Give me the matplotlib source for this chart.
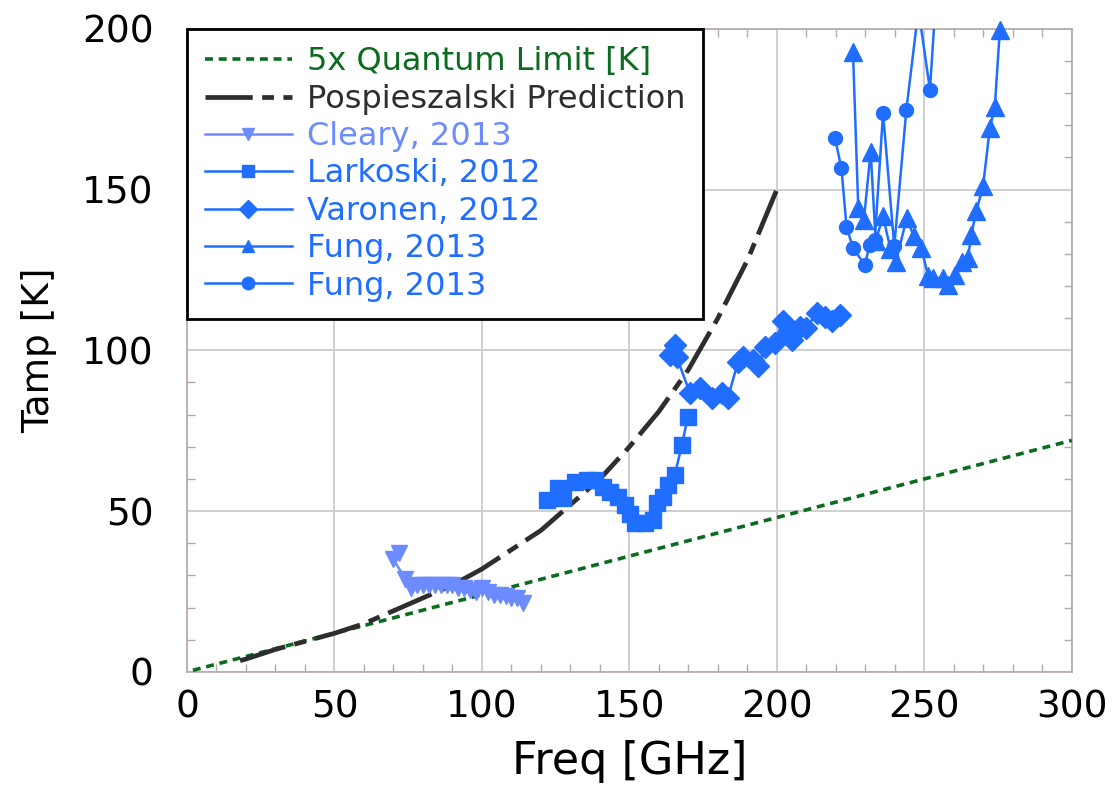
import matplotlib
matplotlib.use("Agg")
import matplotlib.pyplot as plt
from matplotlib.ticker import MultipleLocator

plt.rcParams['font.family'] = ['DejaVu Sans']

# 5x quantum limit (straight line)
ql_freq = [2, 300]
ql_temp = [0.5, 72]

# Pospieszalski prediction
pos_freq = [18, 20, 30, 40, 50, 60, 70, 80, 90, 100, 110, 120, 130, 140, 150, 160, 170, 180, 190, 200]
pos_temp = [3.5, 4, 7, 9.5, 12, 15, 19, 23, 27, 32, 38, 44, 52, 60, 70, 81, 94, 110, 128, 150]

# Cleary, 2013
cl_freq = [72, 70, 74, 76, 78, 80, 82, 84, 86, 88, 90, 92, 94, 96, 98, 100, 102, 104, 106, 108, 110, 112, 114]
cl_temp = [37, 35, 29, 26, 27, 27, 27, 27, 27, 27, 27, 26, 26, 25.5, 25, 26, 25, 24, 24, 23.5, 23, 23, 21.5]

# Larkoski, 2012
lk_freq = [121.9, 125.8, 127.5, 131.6, 135.5, 138.3, 141.0, 143.4, 146.0, 148.5, 150.2, 151.9,
           155.3, 158.0, 159.3, 161.4, 163.0, 165.4, 167.8, 169.8]
lk_temp = [53.5, 57.2, 54.0, 59.0, 59.7, 59.7, 57.5, 56.0, 54.5, 52.0, 49.0, 46.3,
           46.3, 47.3, 52.5, 54.5, 58.0, 61.3, 70.6, 79.3]

# Varonen, 2012
vr_freq = [165.4, 163.7, 166.0, 170.5, 173.9, 178.0, 181.4, 183.4, 186.8, 188.5, 192.0, 193.6,
           196.0, 199.3, 202.0, 203.4, 205.0, 207.8, 210.0, 213.6, 216.3, 218.6, 221.4]
vr_temp = [101.7, 98.6, 98.0, 86.8, 88.3, 85.2, 86.8, 85.2, 96.4, 98.0, 97.0, 95.0,
           101.0, 102.3, 109.0, 105.5, 103.3, 107.3, 107.0, 111.7, 110.4, 109.0, 111.0]

# Fung, 2013 (triangles)
ft_freq = [225.8, 227.6, 229.5, 231.8, 233.5, 236.0, 238.5, 240.4, 244.0, 246.5, 249.0, 251.3,
           253.0, 256.4, 258.1, 260.3, 262.6, 264.8, 265.9, 267.6, 269.9, 272.2, 273.9, 275.6]
ft_temp = [192.8, 144.2, 140.6, 161.8, 134.0, 141.7, 131.5, 127.6, 141.1, 135.4, 131.8, 123.0,
           122.5, 122.5, 120.4, 123.5, 127.6, 128.6, 135.9, 143.2, 151.0, 169.1, 175.8, 199.7]

# Fung, 2013 (circles)
fc_freq = [219.7, 221.9, 223.6, 225.8, 229.8, 231.5, 233.2, 236.0, 239.8, 243.9, 248.0, 251.9, 255.0]
fc_temp = [166.0, 156.6, 138.5, 131.8, 126.6, 132.8, 134.4, 173.8, 132.3, 174.8, 206.0, 181.0, 225.0]

green = '#0b6b1f'
dark = '#2e2e2e'
blue = '#1f6eff'
light_blue = '#6b8bff'

fig = plt.figure(figsize=(11.13, 7.98), dpi=100)
ax = fig.add_axes([0.168, 0.158, 0.795, 0.806])

ax.plot(ql_freq, ql_temp, color=green, lw=2.6, dashes=(2.2, 1.6),
        label='5x Quantum Limit [K]', zorder=3)
ax.plot(pos_freq, pos_temp, color=dark, lw=3.4, dashes=(10, 2, 2.5, 2),
        label='Pospieszalski Prediction', zorder=3)
ax.plot(cl_freq, cl_temp, color=light_blue, lw=1.8, marker='v', ms=11,
        label='Cleary, 2013', zorder=4)
ax.plot(lk_freq, lk_temp, color=blue, lw=1.8, marker='s', ms=11,
        label='Larkoski, 2012', zorder=4)
ax.plot(vr_freq, vr_temp, color=blue, lw=1.8, marker='D', ms=11.5,
        label='Varonen, 2012', zorder=4)
ax.plot(ft_freq, ft_temp, color=blue, lw=1.8, marker='^', ms=13,
        label='Fung, 2013', zorder=4, clip_on=False)
ax.plot(fc_freq, fc_temp, color=blue, lw=1.8, marker='o', ms=10,
        label='Fung, 2013', zorder=4)

ax.set_xlim(0, 300)
ax.set_ylim(0, 200)
ax.xaxis.set_major_locator(MultipleLocator(50))
ax.yaxis.set_major_locator(MultipleLocator(50))
ax.xaxis.set_minor_locator(MultipleLocator(10))
ax.yaxis.set_minor_locator(MultipleLocator(10))
ax.grid(True, which='major', color='#cfcfcf', lw=1.4, zorder=0)
ax.tick_params(which='both', direction='in', top=True, right=True, color='#b8a8a8')
ax.tick_params(which='major', length=0, labelsize=27)
ax.tick_params(axis='x', which='major', pad=13)
ax.tick_params(axis='y', which='major', pad=24)
ax.tick_params(which='minor', length=6, width=1)
for s in ax.spines.values():
    s.set_color('#b8a8a8')
    s.set_linewidth(1.2)

ax.set_xlabel('Freq [GHz]', fontsize=32, labelpad=10)
ax.set_ylabel('Tamp [K]', fontsize=27, labelpad=18)

leg = ax.legend(loc='upper left', bbox_to_anchor=(0, 1), borderaxespad=0, fontsize=23,
                handlelength=2.75, handletextpad=0.45, labelspacing=0.2,
                fancybox=False, framealpha=1, edgecolor='black', borderpad=0.55)
leg.get_frame().set_linewidth(2)
text_colors = [green, dark, light_blue, blue, blue, blue, blue]
for t, c in zip(leg.get_texts(), text_colors):
    t.set_color(c)
for h in leg.get_lines()[2:]:
    h.set_markersize(9)
leg.set_zorder(10)

fig.savefig('out.png', dpi=100)
